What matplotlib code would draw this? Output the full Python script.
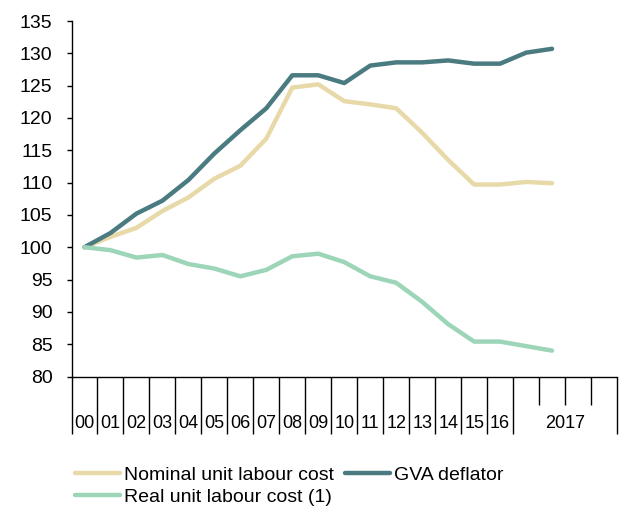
import numpy as np
import matplotlib
matplotlib.use("Agg")
import matplotlib.pyplot as plt

plt.rcParams['font.family'] = ['Liberation Sans', 'DejaVu Sans']

# 2000-2016 annual, then 2017 Q1, Q2 (index 2000 = 100)
year_labels = ['00', '01', '02', '03', '04', '05', '06', '07', '08', '09',
               '10', '11', '12', '13', '14', '15', '16']
quarters_2017 = ['Q1', 'Q2', 'Q3', 'Q4']

nominal_ulc = [100.0, 101.6, 103.0, 105.6, 107.7, 110.6, 112.6, 116.8, 124.7, 125.2,
               122.6, 122.1, 121.5, 117.7, 113.5, 109.7, 109.7, 110.1, 109.9]
gva_deflator = [100.0, 102.2, 105.2, 107.2, 110.4, 114.5, 118.1, 121.5, 126.6, 126.6,
                125.4, 128.1, 128.6, 128.6, 128.9, 128.4, 128.4, 130.1, 130.7]
real_ulc = [100.0, 99.55, 98.4, 98.8, 97.4, 96.7, 95.5, 96.5, 98.6, 99.0,
            97.7, 95.5, 94.5, 91.55, 88.1, 85.4, 85.4, 84.7, 84.0]

col_nominal = '#e8d9a9'
col_gva = '#4a7b80'
col_real = '#9dd5b8'

n_cat = len(year_labels) + len(quarters_2017)
x = np.arange(len(nominal_ulc)) + 0.5

fig = plt.figure(figsize=(6.2, 5.08), dpi=100)
ax = fig.add_axes([71.5 / 620, 1 - 376.5 / 508, (617 - 71.5) / 620, 355.5 / 508])

l1, = ax.plot(x, nominal_ulc, color=col_nominal, lw=3.2, solid_capstyle='round')
l2, = ax.plot(x, gva_deflator, color=col_gva, lw=3.2, solid_capstyle='round')
l3, = ax.plot(x, real_ulc, color=col_real, lw=3.2, solid_capstyle='round')

ax.set_xlim(0, n_cat)
ax.set_ylim(80, 135)
ax.set_yticks(np.arange(80, 136, 5))
ax.tick_params(axis='y', direction='out', length=3.6, width=1, pad=10, labelsize=14)

# category separators: long between years, short between quarters
major = list(range(len(year_labels) + 1)) + [n_cat]
minor = list(range(len(year_labels) + 1, n_cat))
ax.set_xticks(major)
ax.set_xticks(minor, minor=True)
ax.tick_params(axis='x', which='major', direction='out', length=41, width=1, labelbottom=False)
ax.tick_params(axis='x', which='minor', direction='out', length=20, width=1, labelbottom=False)

trans = ax.get_xaxis_transform()
ylab = (376.5 - 423) / 355.5
for i, lab in enumerate(year_labels):
    ax.text(i + 0.5, ylab, lab, transform=trans, ha='center', va='center', fontsize=13)
ax.text(len(year_labels) + len(quarters_2017) / 2, ylab, '2017', transform=trans,
        ha='center', va='center', fontsize=13)

for s in ['top', 'right']:
    ax.spines[s].set_visible(False)
for s in ['left', 'bottom']:
    ax.spines[s].set_linewidth(1)

fig.legend([l1, l3, l2],
           ['Nominal unit labour cost', 'Real unit labour cost (1)', 'GVA deflator'],
           ncol=2, loc='upper left', bbox_to_anchor=(75 / 620, 1 - 466 / 508),
           frameon=False, borderpad=0, fontsize=14, handlelength=2.3,
           handletextpad=0.2, columnspacing=0.6, labelspacing=0.25,
           borderaxespad=0)

fig.savefig('out.png', dpi=100)
